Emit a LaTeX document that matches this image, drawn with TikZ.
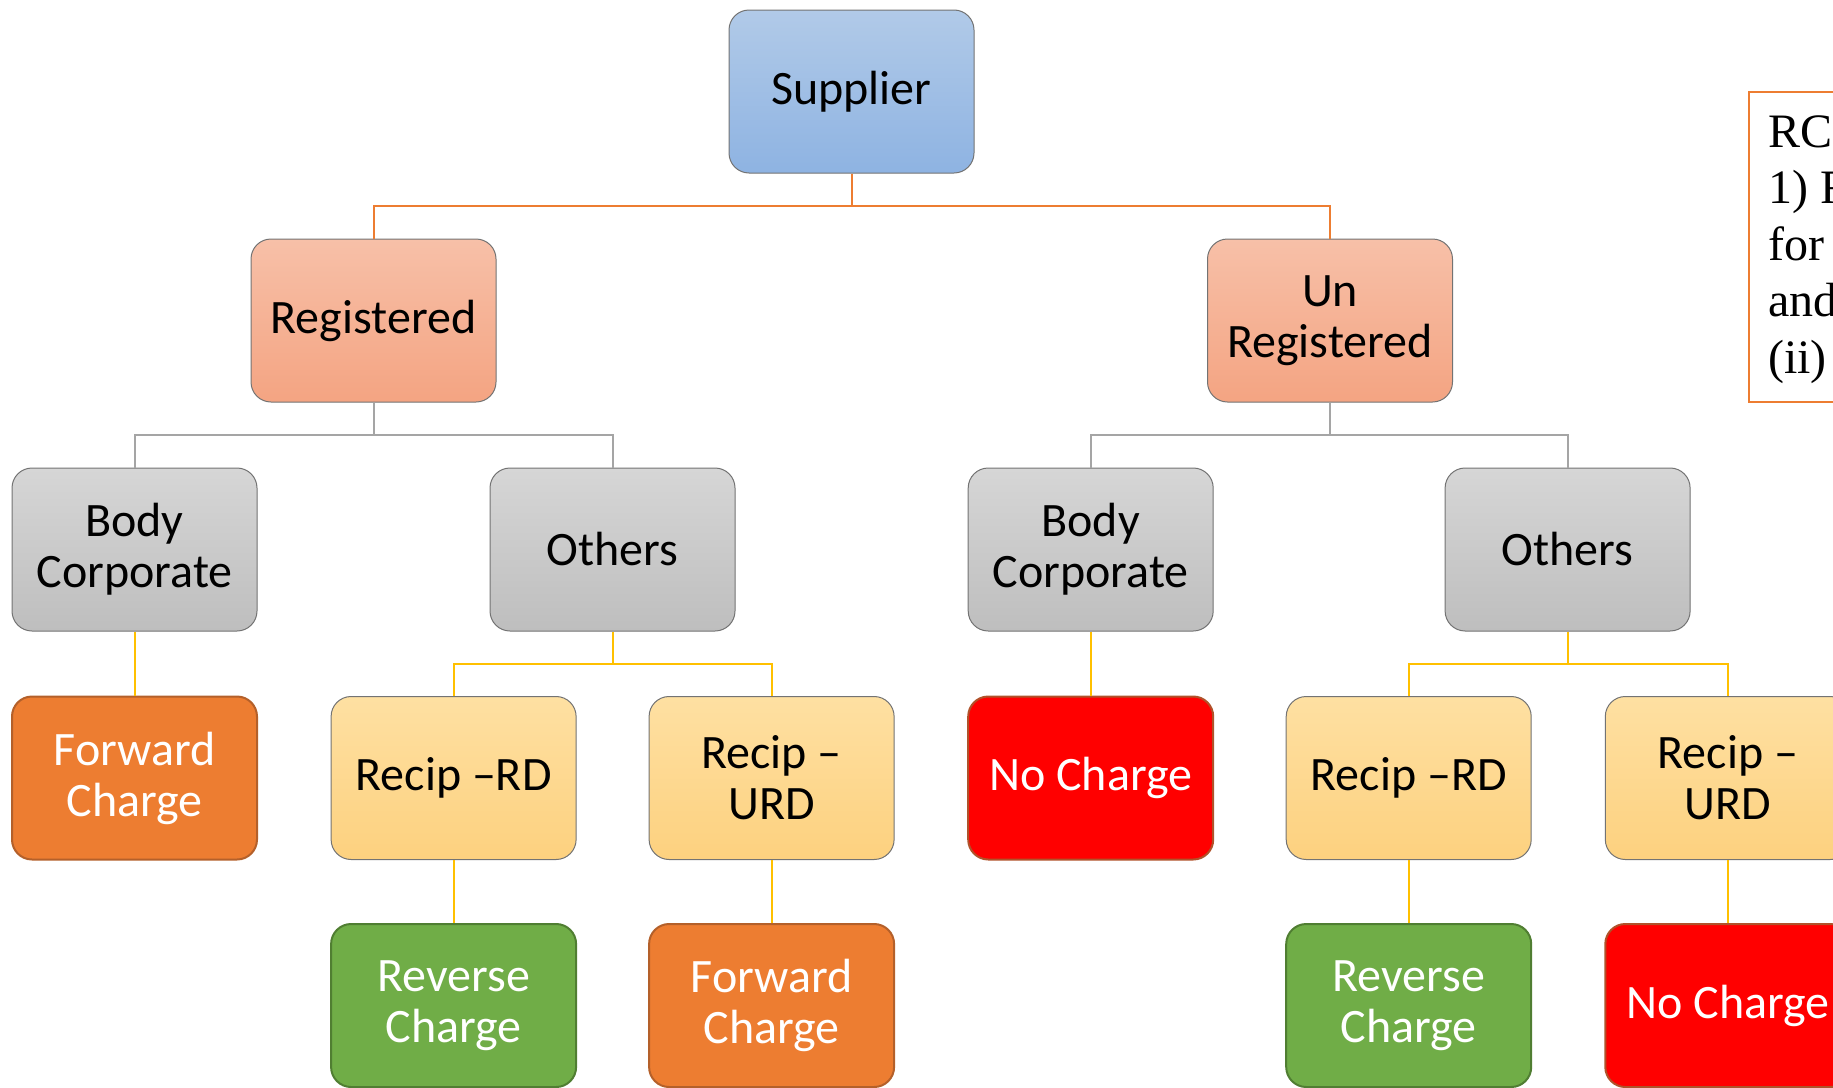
\documentclass[tikz,border=0pt]{standalone}
\usepackage{fontspec}
\setmainfont{Carlito}
\newfontfamily\notefont{Liberation Serif}
\begin{document}
\begin{tikzpicture}[x=1pt,y=-1pt,
  box/.style={rectangle, rounded corners=20pt, minimum width=245pt, minimum height=163pt,
    inner sep=0pt, align=center, font=\fontsize{48}{51}\selectfont, line width=1pt},
  bluebox/.style={box, draw=gray!90!black, top color=blueTop, bottom color=blueBot},
  salmonbox/.style={box, draw=gray!90!black, top color=salTop, bottom color=salBot},
  greybox/.style={box, draw=gray!90!black, top color=greyTop, bottom color=greyBot},
  goldbox/.style={box, draw=gray!90!black, top color=goldTop, bottom color=goldBot},
  fwdbox/.style={box, line width=2pt, draw=fwdEdge, fill=fwdFill, text=white},
  revbox/.style={box, line width=2pt, draw=revEdge, fill=revFill, text=white},
  nobox/.style={box, line width=2pt, draw=noEdge, fill=red, text=white},
  lineA/.style={draw=lnOrange, line width=2pt},
  lineB/.style={draw=lnGrey, line width=2pt},
  lineC/.style={draw=lnGold, line width=2pt}]
\definecolor{blueTop}{HTML}{B1CAE8}
\definecolor{blueBot}{HTML}{8EB3E2}
\definecolor{salTop}{HTML}{F7C0A8}
\definecolor{salBot}{HTML}{F4A482}
\definecolor{greyTop}{HTML}{D6D6D6}
\definecolor{greyBot}{HTML}{BEBEBE}
\definecolor{goldTop}{HTML}{FEE0A2}
\definecolor{goldBot}{HTML}{FDD17F}
\definecolor{fwdFill}{HTML}{ED7D31}
\definecolor{fwdEdge}{HTML}{B4602A}
\definecolor{revFill}{HTML}{70AD47}
\definecolor{revEdge}{HTML}{507E32}
\definecolor{noEdge}{HTML}{B0522A}
\definecolor{lnOrange}{HTML}{ED7D31}
\definecolor{lnGrey}{HTML}{A5A5A5}
\definecolor{lnGold}{HTML}{FFC000}
\definecolor{noteEdge}{HTML}{ED7D31}

\useasboundingbox (0,0) rectangle (1833,1087);
\clip (0,0) rectangle (1833,1087);

% level 1
\node[bluebox] (sup) at (851.5,91.5) {Supplier};
% level 2
\node[salmonbox] (reg) at (373.5,320.5) {Registered};
\node[salmonbox] (unreg) at (1330,320.5) {Un\\Registered};
% level 3
\node[greybox] (rbc) at (134.5,549.5) {Body\\Corporate};
\node[greybox] (rot) at (612.5,549.5) {Others};
\node[greybox] (ubc) at (1090.7,549.5) {Body\\Corporate};
\node[greybox] (uot) at (1567.6,549.5) {Others};
% level 4
\node[fwdbox] (rbcf) at (134.5,778) {Forward\\Charge};
\node[goldbox] (rrd) at (453.6,778) {Recip --RD};
\node[goldbox] (rurd) at (771.6,778) {Recip --\\URD};
\node[nobox] (ubcn) at (1090.7,778) {No Charge};
\node[goldbox] (urd) at (1408.7,778) {Recip --RD};
\node[goldbox] (uurd) at (1727.8,778) {Recip --\\URD};
% level 5
\node[revbox] (rrdr) at (453.6,1005.5) {Reverse\\Charge};
\node[fwdbox] (rurdf) at (771.6,1005.5) {Forward\\Charge};
\node[revbox] (urdr) at (1408.7,1005.5) {Reverse\\Charge};
\node[nobox] (uurdn) at (1727.8,1005.5) {No Charge};

% connectors
\coordinate (b1) at (851.5,206);
\draw[lineA] (sup.south) -- (b1);
\draw[lineA] (reg.north) |- (b1) -| (unreg.north);

\coordinate (b2) at (373.5,435);
\draw[lineB] (reg.south) -- (b2);
\draw[lineB] (rbc.north) |- (b2) -| (rot.north);
\coordinate (b3) at (1330,435);
\draw[lineB] (unreg.south) -- (b3);
\draw[lineB] (ubc.north) |- (b3) -| (uot.north);

\draw[lineC] (rbc.south) -- (rbcf.north);
\coordinate (b4) at (612.5,664);
\draw[lineC] (rot.south) -- (b4);
\draw[lineC] (rrd.north) |- (b4) -| (rurd.north);
\draw[lineC] (ubc.south) -- (ubcn.north);
\coordinate (b5) at (1567.6,664);
\draw[lineC] (uot.south) -- (b5);
\draw[lineC] (urd.north) |- (b5) -| (uurd.north);

\draw[lineC] (rrd.south) -- (rrdr.north);
\draw[lineC] (rurd.south) -- (rurdf.north);
\draw[lineC] (urd.south) -- (urdr.north);
\draw[lineC] (uurd.south) -- (uurdn.north);

% note box at the right
\node[draw=noteEdge, line width=2pt, rectangle, minimum width=400pt, minimum height=310pt,
  anchor=north west, inner sep=0pt] (note) at (1748,91) {};
\node[anchor=base west, inner sep=0pt, align=left,
  font=\notefont\fontsize{48}{56.5}\selectfont] (notetext) at (1768,373)
  {RCM applicable\\1) Reverse charge\\for supplies\\and services\\(ii) other cases};
\end{tikzpicture}
\end{document}
